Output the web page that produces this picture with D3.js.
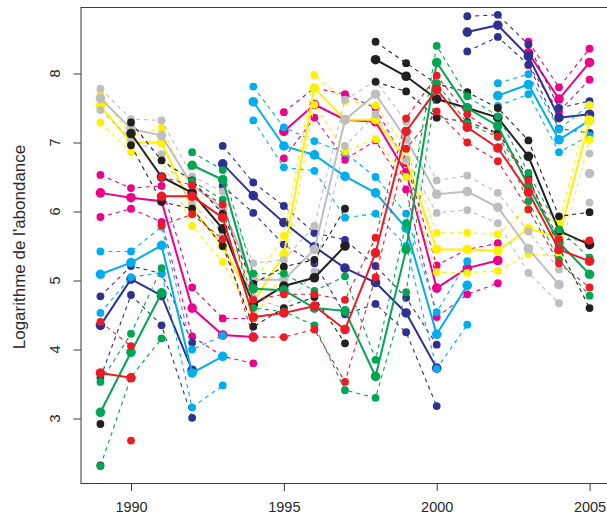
<!DOCTYPE html>
<html><head><meta charset="utf-8">
<script src="https://cdn.jsdelivr.net/npm/d3@7/dist/d3.min.js"></script>
<style>body{margin:0;background:#fff}svg{display:block}</style>
</head><body>
<svg id="c" width="607" height="518"></svg>
<script>
const years = d3.range(1989, 2006);
const xTicks = [1990, 1995, 2000, 2005];
const yTicks = [3, 4, 5, 6, 7, 8];
const yTitle = "Logarithme de l'abondance";

// Each colour: upper bound, mean, lower bound (1989..2005); breaks = years after which lines are not joined
const pinkUpper = [6.53, 6.34, 6.37, 4.90, 4.45, 4.45, 7.44, 7.79, 7.70, 7.50, 6.70, 5.22, 5.45, 5.54, 8.46, 7.80, 8.36];
const pinkMean  = [6.27, 6.20, 6.15, 4.60, 4.21, 4.18, 7.16, 7.55, 7.33, 7.30, 6.56, 4.89, 5.18, 5.29, 8.30, 7.63, 8.16];
const pinkLower = [5.92, 6.04, 5.85, 4.19, 3.90, 3.80, 6.77, 7.36, 6.75, 7.03, 6.32, 4.47, 4.80, 4.96, 8.12, 7.45, 7.91];
const pinkBreaks = [1994, 2002];

const greenUpper = [3.53, 4.23, 5.18, 6.86, 6.60, 5.10, 5.10, 4.85, 5.06, 3.85, 5.83, 8.40, 7.67, 7.38, 6.56, 5.74, 5.33];
const greenMean  = [3.09, 3.96, 4.82, 6.67, 6.46, 4.88, 4.86, 4.60, 4.56, 3.61, 5.45, 8.16, 7.50, 7.24, 6.37, 5.55, 5.09];
const greenLower = [2.31, 3.60, 4.16, 6.44, 6.17, 4.60, 4.55, 4.35, 3.41, 3.30, 4.83, 7.86, 7.28, 7.08, 6.15, 5.30, 4.78];
const greenBreaks = [1991];

const navyUpper = [4.77, 5.21, 5.10, 4.10, 6.95, 6.42, 6.08, 5.69, 5.59, 5.21, 4.75, 4.07, 8.83, 8.85, 8.42, 7.50, 7.60];
const navyMean  = [4.35, 5.02, 4.78, 3.70, 6.69, 6.23, 5.84, 5.49, 5.18, 4.97, 4.53, 3.73, 8.60, 8.70, 8.25, 7.36, 7.41];
const navyLower = [3.59, 4.79, 4.35, 3.01, 6.37, 5.98, 5.52, 5.25, 4.51, 4.66, 4.25, 3.18, 8.32, 8.53, 8.13, 7.20, 7.14];
const navyBreaks = [1992, 2000];

const cyanUpper = [5.42, 5.42, 5.78, 4.00, 4.20, 7.81, 7.22, 7.02, 6.85, 6.50, 5.97, 4.54, 5.28, 7.86, 7.99, 7.19, 7.55];
const cyanMean  = [5.09, 5.26, 5.51, 3.66, 3.90, 7.59, 6.95, 6.82, 6.51, 6.27, 5.76, 4.22, 4.93, 7.68, 7.84, 7.04, 7.32];
const cyanLower = [4.53, 5.05, 5.11, 3.16, 3.48, 7.32, 6.64, 6.59, 5.91, 5.97, 5.50, 3.72, 4.36, 7.53, 7.70, 6.86, 7.10];
const cyanBreaks = [1993, 2001];

const yellowUpper = [7.70, 7.10, 7.21, 6.30, 5.75, 4.95, 5.65, 7.98, 7.60, 7.54, 6.90, 5.69, 5.69, 5.67, 6.05, 5.83, 7.54];
const yellowMean  = [7.53, 7.00, 7.00, 6.05, 5.50, 4.68, 5.38, 7.79, 7.33, 7.33, 6.75, 5.45, 5.45, 5.43, 5.75, 5.63, 7.32];
const yellowLower = [7.29, 6.86, 6.75, 5.79, 5.27, 4.45, 5.12, 7.55, 6.87, 7.05, 6.50, 5.12, 5.11, 5.14, 5.38, 5.36, 7.04];
const yellowBreaks = [];

const grayUpper = [7.78, 7.34, 7.32, 6.51, 6.29, 5.25, 5.30, 5.79, 7.62, 7.89, 7.30, 6.45, 6.52, 6.27, 5.71, 5.16, 6.84];
const grayMean  = [7.64, 7.20, 7.10, 6.38, 6.05, 5.01, 5.01, 5.45, 7.33, 7.70, 7.05, 6.25, 6.29, 6.06, 5.46, 4.94, 6.55];
const grayLower = [7.47, 7.05, 6.83, 6.10, 5.70, 4.75, 4.60, 5.13, 6.95, 7.41, 6.75, 5.98, 6.02, 5.83, 5.11, 4.67, 6.13];
const grayBreaks = [2004];

const blackUpper = [2.92, 7.29, 6.74, 6.45, 5.97, 4.95, 5.20, 5.30, 6.04, 8.46, 8.15, 7.85, 7.73, 7.50, 7.03, 5.93, 5.99];
const blackMean  = [null, 7.13, 6.50, 6.27, 5.75, 4.65, 4.92, 5.04, 5.50, 8.20, 7.96, 7.63, 7.50, 7.36, 6.80, 5.72, 5.52];
const blackLower = [2.32, 6.96, 6.14, 6.04, 5.50, 4.33, 4.60, 4.76, 4.09, 7.88, 7.74, 7.36, 7.30, 7.14, 6.50, 5.48, 4.60];
const blackBreaks = [1989, 1997];

const redUpper = [4.40, 4.05, 6.50, 6.38, 6.10, 4.72, 4.80, 4.80, 4.72, 5.62, 7.35, 7.97, 7.41, 7.09, 6.45, 5.60, 5.58];
const redMean  = [3.66, 3.59, 6.22, 6.22, 5.91, 4.47, 4.53, 4.63, 4.29, 5.40, 7.16, 7.77, 7.22, 6.92, 6.28, 5.45, 5.28];
const redLower = [null, 2.68, 5.80, 5.96, 5.60, 4.18, 4.18, 4.29, 3.53, 5.05, 6.91, 7.45, 7.00, 6.73, 6.03, 5.25, 4.90];
const redBreaks = [1990];

const groups = [
  {color: "#ec008c", u: pinkUpper, m: pinkMean, l: pinkLower, br: pinkBreaks},
  {color: "#2e3192", u: navyUpper, m: navyMean, l: navyLower, br: navyBreaks},
  {color: "#00aeef", u: cyanUpper, m: cyanMean, l: cyanLower, br: cyanBreaks},
  {color: "#fff200", u: yellowUpper, m: yellowMean, l: yellowLower, br: yellowBreaks},
  {color: "#bcbec0", u: grayUpper, m: grayMean, l: grayLower, br: grayBreaks},
  {color: "#231f20", u: blackUpper, m: blackMean, l: blackLower, br: blackBreaks},
  {color: "#00a651", u: greenUpper, m: greenMean, l: greenLower, br: greenBreaks},
  {color: "#ed1c24", u: redUpper, m: redMean, l: redLower, br: redBreaks}
];

const svg = d3.select("#c");
const x = d3.scaleLinear().domain([1990, 2000]).range([131, 436.7]);
const y = d3.scaleLinear().domain([3, 8]).range([418.5, 73.5]);
const frameL = 81, frameR = 609.5, frameT = 7.5, frameB = 483.5;
const font = "Liberation Sans, Arial, sans-serif";

svg.append("rect").attr("x", frameL).attr("y", frameT).attr("width", frameR - frameL).attr("height", frameB - frameT)
  .attr("fill", "none").attr("stroke", "#3a3a3a").attr("stroke-width", 1);

const gx = svg.append("g").attr("transform", `translate(0,${frameB})`)
  .call(d3.axisBottom(x).tickValues(xTicks).tickFormat(d3.format("d")).tickSize(7.5).tickPadding(11));
gx.select(".domain").remove();
gx.selectAll("line").attr("stroke", "#3a3a3a");
gx.selectAll("text").attr("font-family", font).attr("font-size", 14.5).attr("fill", "#2a2a2a");

const gy = svg.append("g").attr("transform", `translate(${frameL},0)`)
  .call(d3.axisLeft(y).tickValues(yTicks).tickFormat(d3.format("d")).tickSize(7.5));
gy.select(".domain").remove();
gy.selectAll("line").attr("stroke", "#3a3a3a");
gy.selectAll("text").remove();
svg.append("g").selectAll("text").data(yTicks).join("text")
  .attr("transform", d => `translate(60,${y(d)}) rotate(-90)`)
  .attr("text-anchor", "middle")
  .attr("font-family", font).attr("font-size", 14.5).attr("fill", "#2a2a2a")
  .text(d => d);

svg.append("text").attr("transform", "translate(25,247) rotate(-90)")
  .attr("text-anchor", "middle")
  .attr("font-family", font).attr("font-size", 17).attr("fill", "#2a2a2a")
  .text(yTitle);

const plot = svg.append("g");
const line = d3.line().x(d => x(d.yr)).y(d => y(d.v));

function segments(arr, br) {
  const segs = [];
  let cur = [];
  arr.forEach((v, i) => {
    const yr = years[i];
    if (v == null) { if (cur.length) segs.push(cur); cur = []; return; }
    if (cur.length && br.includes(yr - 1)) { segs.push(cur); cur = []; }
    cur.push({yr, v});
  });
  if (cur.length) segs.push(cur);
  return segs;
}

groups.forEach(g => {
  const gg = plot.append("g");
  const draw = (arr, solid) => {
    const segs = segments(arr, g.br);
    segs.filter(s => s.length > 1).forEach(s => {
      const p = gg.append("path").attr("d", line(s)).attr("fill", "none").attr("stroke", g.color)
        .attr("stroke-width", solid ? 2 : 1.1);
      if (!solid) p.attr("stroke-dasharray", "4,4");
    });
    gg.selectAll(null).data(segs.flat()).join("circle")
      .attr("cx", d => x(d.yr)).attr("cy", d => y(d.v)).attr("r", solid ? 4.8 : 3.9).attr("fill", g.color);
  };
  draw(g.u, false);
  draw(g.l, false);
  draw(g.m, true);
});
</script>
</body></html>
